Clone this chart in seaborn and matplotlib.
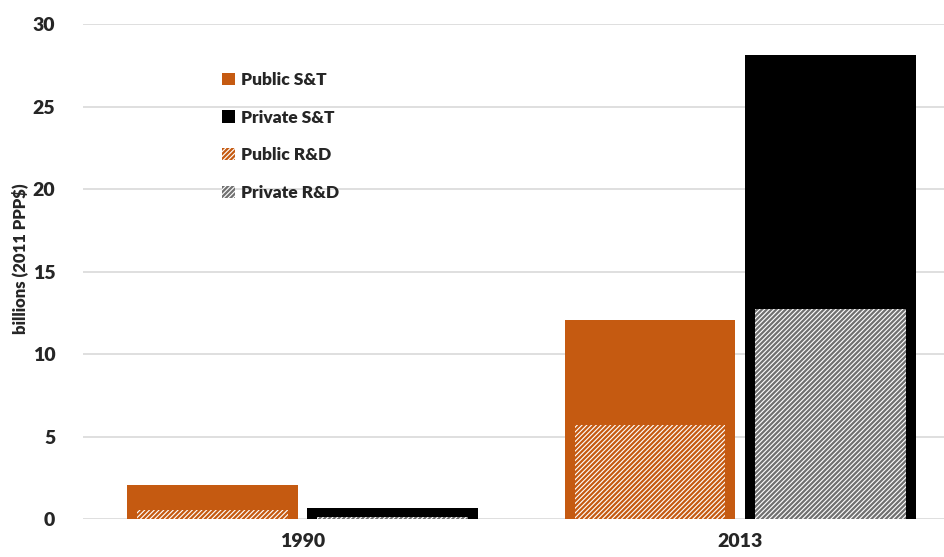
import matplotlib
matplotlib.use("Agg")
import matplotlib.pyplot as plt
from matplotlib.patches import Patch
import seaborn as sns
import pandas as pd

years = ["1990", "2013"]
public_st = [2.05, 12.05]
private_st = [0.67, 28.1]
public_rd = [0.55, 5.7]
private_rd = [0.12, 12.7]
yticks = [0, 5, 10, 15, 20, 25, 30]

ORANGE = "#C55A11"
BLACK = "#000000"
GREY = "#707070"
HATCH = "///////"

sns.set_theme(style="white")
plt.rcParams["font.family"] = ["Lato", "DejaVu Sans"]
plt.rcParams["hatch.linewidth"] = 1.6

st_df = pd.DataFrame({
    "year": years * 2,
    "sector": ["Public"] * 2 + ["Private"] * 2,
    "value": public_st + private_st,
})
rd_df = pd.DataFrame({
    "year": years * 2,
    "sector": ["Public"] * 2 + ["Private"] * 2,
    "value": public_rd + private_rd,
})

fig = plt.figure(figsize=(9.44, 5.57), dpi=100)
ax = fig.add_axes([0.088, 0.0682, 0.912, 0.8887])

sns.barplot(data=st_df, x="year", y="value", hue="sector",
            palette={"Public": ORANGE, "Private": BLACK},
            width=0.824, gap=0.053, saturation=1, legend=False,
            linewidth=0, ax=ax, zorder=2)
sns.barplot(data=rd_df, x="year", y="value", hue="sector",
            palette={"Public": ORANGE, "Private": GREY},
            width=0.824, gap=0.163, saturation=1, legend=False,
            linewidth=0, ax=ax, zorder=3)

# style R&D bars: white background with coloured stripes
for cont, col in zip(ax.containers[2:4], [ORANGE, GREY]):
    for p in cont.patches:
        p.set_facecolor("white")
        p.set_edgecolor(col)
        p.set_hatch(HATCH)
        p.set_linewidth(0)

ax.set_ylim(0, 30)
ax.set_xlim(-0.502, 1.466)
ax.set_yticks(yticks)
ax.set_yticklabels([str(t) for t in yticks], fontsize=14, fontweight="heavy")
ax.set_xticks([0, 1])
ax.set_xticklabels(years, fontsize=14, fontweight="heavy")
ax.tick_params(axis="y", length=0, pad=20)
ax.tick_params(axis="x", length=0, pad=10)
ax.yaxis.grid(True, color="#D9D9D9", linewidth=1.2, zorder=0)
ax.set_axisbelow(True)
for s in ax.spines.values():
    s.set_visible(False)
ax.set_xlabel("")
ax.set_ylabel("billions (2011 PPP$)", fontsize=12, fontweight="heavy")
ax.yaxis.set_label_coords(-0.064, 0.525)

handles = [
    Patch(facecolor=ORANGE, edgecolor=ORANGE, linewidth=0),
    Patch(facecolor=BLACK, edgecolor=BLACK, linewidth=0),
    Patch(facecolor="white", edgecolor=ORANGE, hatch=HATCH, linewidth=0),
    Patch(facecolor="white", edgecolor=GREY, hatch=HATCH, linewidth=0),
]
labels = ["Public S&T", "Private S&T", "Public R&D", "Private R&D"]
leg = fig.legend(handles, labels, loc="upper left", bbox_to_anchor=(0.219, 0.899),
                 frameon=False, handlelength=0.7, handleheight=0.7,
                 handletextpad=0.35, labelspacing=1.25,
                 prop={"size": 12.5, "weight": "heavy"})

fig.savefig("out.png", dpi=100)
